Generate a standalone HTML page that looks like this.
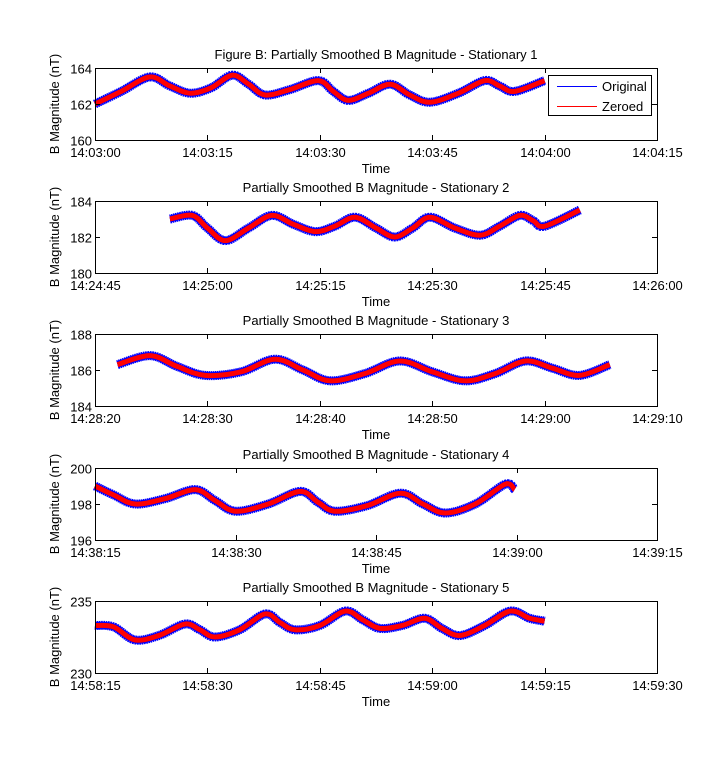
<!DOCTYPE html>
<html><head><meta charset="utf-8">
<style>
body{margin:0;background:#fff;}
svg{display:block;font-family:"Liberation Sans",Arial,sans-serif;}
</style></head>
<body>
<svg id="fig" width="726" height="772" viewBox="0 0 726 772"></svg>
<script>
// Panel data (time in seconds from x-axis start, values in nT)
const titles = ["Figure B: Partially Smoothed B Magnitude - Stationary 1","Partially Smoothed B Magnitude - Stationary 2","Partially Smoothed B Magnitude - Stationary 3","Partially Smoothed B Magnitude - Stationary 4","Partially Smoothed B Magnitude - Stationary 5"];
const xTickLabels1 = ["14:03:00","14:03:15","14:03:30","14:03:45","14:04:00","14:04:15"];
const xTickLabels2 = ["14:24:45","14:25:00","14:25:15","14:25:30","14:25:45","14:26:00"];
const xTickLabels3 = ["14:28:20","14:28:30","14:28:40","14:28:50","14:29:00","14:29:10"];
const xTickLabels4 = ["14:38:15","14:38:30","14:38:45","14:39:00","14:39:15"];
const xTickLabels5 = ["14:58:15","14:58:30","14:58:45","14:59:00","14:59:15","14:59:30"];
const yTicks1 = [160,162,164];
const yTicks2 = [180,182,184];
const yTicks3 = [184,186,188];
const yTicks4 = [196,198,200];
const yTicks5 = [230,235];
const times1 = [0,3.5,7.3,10,12.7,15.5,18.3,20.5,22.7,26,29.8,31.8,33.8,36.5,39.4,42,44.7,48.5,52,54,56,60];
const vals1  = [162.0,162.7,163.5,163.0,162.6,162.9,163.6,163.1,162.5,162.8,163.3,162.7,162.2,162.6,163.1,162.5,162.1,162.6,163.3,163.0,162.7,163.3];
const times2 = [10,13,15,17.4,20.5,23.6,26.5,29.4,32,34.7,37.5,40,42.4,44.7,48,51.4,54,56.7,58.5,60,64.7];
const vals2  = [183.0,183.2,182.5,181.8,182.5,183.2,182.7,182.3,182.6,183.1,182.5,182.0,182.5,183.1,182.5,182.1,182.6,183.2,182.9,182.6,183.5];
const times3 = [2,4.9,7.3,9.8,13,16,18.5,20.9,24,27.1,30,32.9,35.6,38.3,40.7,43.1,45.8];
const vals3  = [186.3,186.8,186.2,185.7,185.9,186.6,186.0,185.4,185.8,186.5,185.9,185.4,185.8,186.5,186.1,185.7,186.3];
const times4 = [0,2,4.3,7.5,10.7,12.8,15,18.5,21.9,23.8,25.6,29,32.6,35,37.4,40.6,43.8,44.8];
const vals4  = [199.0,198.5,198.0,198.3,198.8,198.2,197.6,198.0,198.7,198.1,197.6,197.9,198.6,198.0,197.5,198.0,199.1,198.8];
const times5 = [0,2.5,5.3,8.5,12,14,16,19.3,22.7,24.7,26.7,30,33.4,35.7,38,41,44,46.3,48.7,52,55.4,58,60];
const vals5  = [233.3,233.2,232.3,232.6,233.4,233.0,232.5,233.0,234.1,233.5,233.0,233.3,234.3,233.7,233.1,233.3,233.8,233.1,232.6,233.3,234.3,233.8,233.6];

const NS="http://www.w3.org/2000/svg";
const svg=document.getElementById('fig');
function mk(tag,attrs,parent){const e=document.createElementNS(NS,tag);for(const k in attrs)e.setAttribute(k,attrs[k]);(parent||svg).appendChild(e);return e;}

const panels=[
 {top:68,xMax:75,xStep:15,xl:xTickLabels1,yt:yTicks1,t:times1,v:vals1,legend:true},
 {top:201,xMax:75,xStep:15,xl:xTickLabels2,yt:yTicks2,t:times2,v:vals2},
 {top:334,xMax:50,xStep:10,xl:xTickLabels3,yt:yTicks3,t:times3,v:vals3},
 {top:468,xMax:60,xStep:15,xl:xTickLabels4,yt:yTicks4,t:times4,v:vals4},
 {top:601,xMax:75,xStep:15,xl:xTickLabels5,yt:yTicks5,t:times5,v:vals5}
];
const L=95,R=657,H=72,FS=13;

function smoothPath(pts){
 let d="M"+pts[0][0].toFixed(2)+","+pts[0][1].toFixed(2);
 for(let i=0;i<pts.length-1;i++){
  const p0=pts[Math.max(0,i-1)],p1=pts[i],p2=pts[i+1],p3=pts[Math.min(pts.length-1,i+2)];
  const c1=[p1[0]+(p2[0]-p0[0])/6,p1[1]+(p2[1]-p0[1])/6];
  const c2=[p2[0]-(p3[0]-p1[0])/6,p2[1]-(p3[1]-p1[1])/6];
  d+=" C"+c1[0].toFixed(2)+","+c1[1].toFixed(2)+" "+c2[0].toFixed(2)+","+c2[1].toFixed(2)+" "+p2[0].toFixed(2)+","+p2[1].toFixed(2);
 }
 return d;
}

panels.forEach((p,i)=>{
 const g=mk('g',{});
 
 
 const T=p.top,B=T+H;
 const ymin=p.yt[0],ymax=p.yt[p.yt.length-1];
 const xs=t=>L+(t/p.xMax)*(R-L);
 const ys=v=>B-(v-ymin)/(ymax-ymin)*H;
 const pts=p.t.map((t,k)=>[xs(t),ys(p.v[k])]);
 const d=smoothPath(pts);
 const orig=mk('path',{d:d,fill:'none',stroke:'#0000ff','stroke-width':9,'stroke-linejoin':'round','stroke-dasharray':'1.5 0.6'},g);
 
 
 const orig2=mk('path',{d:d,fill:'none',stroke:'#0000ff','stroke-width':7,'stroke-linejoin':'round'},g);
 
 
 const zer=mk('path',{d:d,fill:'none',stroke:'#ff0000','stroke-width':5,'stroke-linejoin':'round'},g);
 
 
 const box=mk('rect',{x:L+0.5,y:T+0.5,width:R-L,height:H,fill:'none',stroke:'#000','stroke-width':1},g);
 
 
 p.xl.forEach((lab,k)=>{
  const x=Math.round(xs(k*p.xStep))+0.5;
  mk('line',{x1:x,x2:x,y1:B,y2:B-5,stroke:'#000'},g);
  mk('line',{x1:x,x2:x,y1:T,y2:T+5,stroke:'#000'},g);
  const tx=mk('text',{x:x,y:B+17,'font-size':FS,'text-anchor':'middle'},g);
  tx.textContent=lab;
  
  
 });
 p.yt.forEach(v=>{
  const y=Math.round(ys(v))+0.5;
  mk('line',{x1:L,x2:L+5,y1:y,y2:y,stroke:'#000'},g);
  mk('line',{x1:R,x2:R-5,y1:y,y2:y,stroke:'#000'},g);
  const tx=mk('text',{x:L-3,y:y+5,'font-size':FS,'text-anchor':'end'},g);
  tx.textContent=v;
  
  
 });
 const ti=mk('text',{x:(L+R)/2,y:T-9,'font-size':FS,'text-anchor':'middle'},g);
 ti.textContent=titles[i];
 
 
 const xl=mk('text',{x:(L+R)/2,y:B+33,'font-size':FS,'text-anchor':'middle'},g);
 xl.textContent='Time';
 
 
 const yl=mk('text',{x:0,y:0,'font-size':FS,'text-anchor':'middle',transform:'translate(59,'+(T+H/2)+') rotate(-90)'},g);
 yl.textContent='B Magnitude (nT)';
 
 
 if(p.legend){
  const lg=mk('g',{},g);
  
  
  mk('rect',{x:548.5,y:75.5,width:103,height:40,fill:'#fff',stroke:'#000'},lg);
  mk('line',{x1:557,x2:597,y1:86.5,y2:86.5,stroke:'#0000ff'},lg);
  mk('line',{x1:557,x2:597,y1:106.5,y2:106.5,stroke:'#ff0000'},lg);
  const a=mk('text',{x:602,y:91,'font-size':FS},lg);a.textContent='Original';
  
  
  const b=mk('text',{x:602,y:111,'font-size':FS},lg);b.textContent='Zeroed';
  
  
 }
});
</script>
</body></html>
